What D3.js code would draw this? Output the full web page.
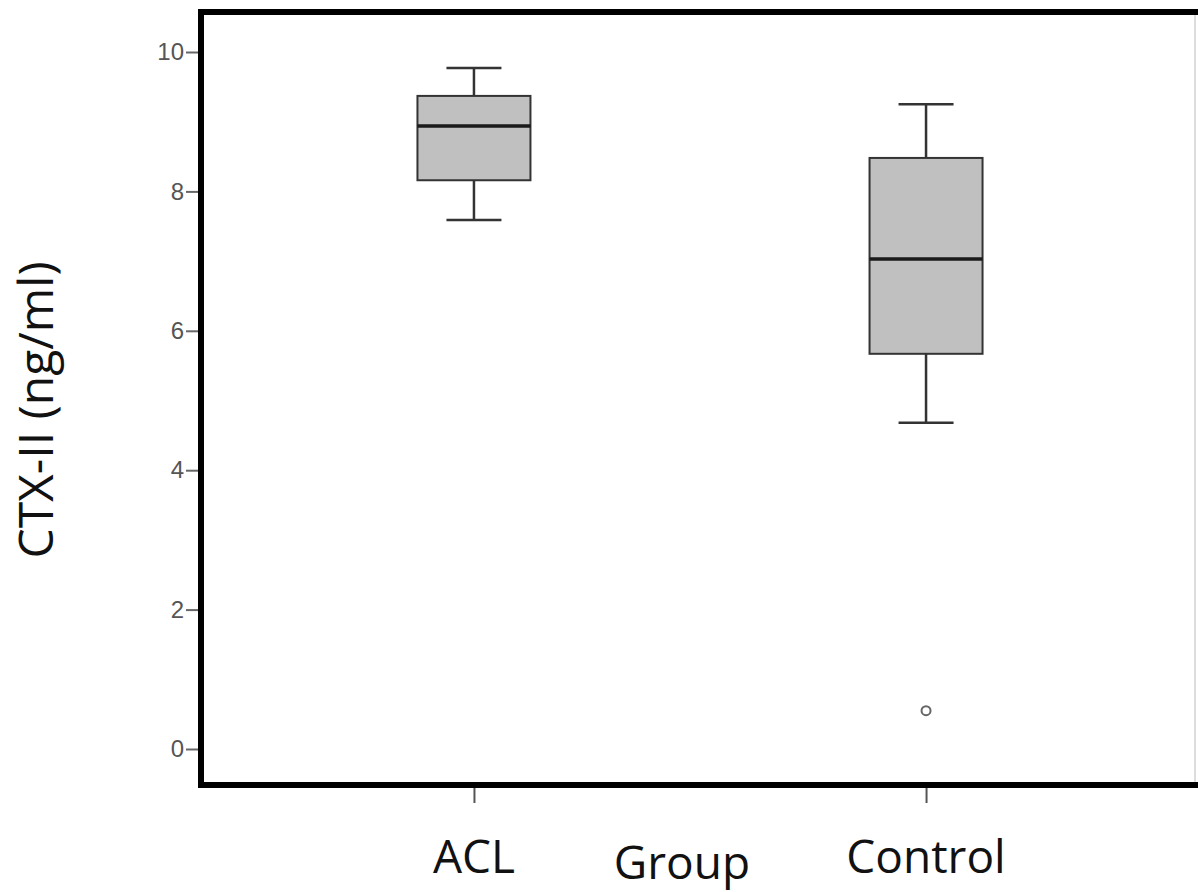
<!DOCTYPE html>
<html>
<head>
<meta charset="utf-8">
<script src="https://cdn.jsdelivr.net/npm/d3@7"></script>
<style>
  body { margin: 0; background: #fff; }
  svg { display: block; }
</style>
</head>
<body>
<svg id="chart" width="1198" height="892"></svg>
<script>
// data
const groups = ["ACL", "Control"]
const whiskerLow = [7.59, 4.68]
const q1 = [8.16, 5.67]
const median = [8.94, 7.03]
const q3 = [9.37, 8.48]
const whiskerHigh = [9.77, 9.25]
const outliers = [[], [0.55]]
const yTicks = [0, 2, 4, 6, 8, 10]

const svg = d3.select("#chart")
const width = 1198

const y = d3.scaleLinear().domain([0, 10]).range([749, 52])
const x = d3.scalePoint().domain(groups).range([200, 1200]).padding(0.606)

const boxW = 113
const capW = 55

// y axis ticks + labels
const yAxis = svg.append("g")
  .attr("transform", "translate(200,0)")
  .call(d3.axisLeft(y).tickValues(yTicks).tickSize(14).tickPadding(2))
yAxis.select(".domain").remove()
yAxis.selectAll("line").attr("stroke", "#666").attr("stroke-width", 2)
yAxis.selectAll("text")
  .attr("fill", "#555")
  .style("font-family", "'Liberation Sans', Arial, sans-serif")
  .style("font-size", "24px")

// x axis ticks
const xAxis = svg.append("g")
  .attr("transform", "translate(0,785)")
  .call(d3.axisBottom(x).tickSize(18).tickFormat(""))
xAxis.select(".domain").remove()
xAxis.selectAll("line").attr("stroke", "#555").attr("stroke-width", 2)

// group labels
svg.append("g").selectAll("text")
  .data(groups)
  .join("text")
  .attr("x", d => x(d))
  .attr("y", 873)
  .attr("text-anchor", "middle")
  .style("font-family", "'Open Sans', sans-serif")
  .style("font-size", "46px")
  .attr("fill", "#111")
  .text(d => d)

svg.append("text")
  .attr("x", 682)
  .attr("y", 879)
  .attr("text-anchor", "middle")
  .style("font-family", "'Open Sans', sans-serif")
  .style("font-size", "46px")
  .attr("fill", "#111")
  .text("Group")

svg.append("text")
  .attr("transform", "translate(53,410) rotate(-90)")
  .attr("text-anchor", "middle")
  .style("font-family", "'Open Sans', sans-serif")
  .style("font-size", "48px")
  .attr("fill", "#111")
  .text("CTX-II (ng/ml)")

// boxes
const boxes = svg.append("g").selectAll("g")
  .data(groups.map((g, i) => ({ g, lo: whiskerLow[i], q1: q1[i], med: median[i], q3: q3[i], hi: whiskerHigh[i], out: outliers[i] })))
  .join("g")

boxes.append("line")
  .attr("x1", d => x(d.g)).attr("x2", d => x(d.g))
  .attr("y1", d => y(d.hi)).attr("y2", d => y(d.lo))
  .attr("stroke", "#333").attr("stroke-width", 2.5)

boxes.selectAll(".cap")
  .data(d => [d.lo, d.hi].map(v => ({ g: d.g, v })))
  .join("line")
  .attr("class", "cap")
  .attr("x1", d => x(d.g) - capW / 2).attr("x2", d => x(d.g) + capW / 2)
  .attr("y1", d => y(d.v)).attr("y2", d => y(d.v))
  .attr("stroke", "#333").attr("stroke-width", 2.5)

boxes.append("rect")
  .attr("x", d => x(d.g) - boxW / 2)
  .attr("width", boxW)
  .attr("y", d => y(d.q3))
  .attr("height", d => y(d.q1) - y(d.q3))
  .attr("fill", "#c0c0c0")
  .attr("stroke", "#333").attr("stroke-width", 2)

boxes.append("line")
  .attr("x1", d => x(d.g) - boxW / 2).attr("x2", d => x(d.g) + boxW / 2)
  .attr("y1", d => y(d.med)).attr("y2", d => y(d.med))
  .attr("stroke", "#1a1a1a").attr("stroke-width", 3.5)

boxes.selectAll("circle")
  .data(d => d.out.map(v => ({ g: d.g, v })))
  .join("circle")
  .attr("cx", d => x(d.g)).attr("cy", d => y(d.v))
  .attr("r", 4.5)
  .attr("fill", "#fff")
  .attr("stroke", "#666").attr("stroke-width", 2)

// frame (right side runs off the picture)
svg.append("line")
  .attr("x1", 1195).attr("x2", 1195).attr("y1", 14).attr("y2", 785)
  .attr("stroke", "#ddd").attr("stroke-width", 2)
svg.append("path")
  .attr("d", `M${width + 10},12H201V785H${width + 10}`)
  .attr("fill", "none")
  .attr("stroke", "#000")
  .attr("stroke-width", 6)
</script>
</body>
</html>
